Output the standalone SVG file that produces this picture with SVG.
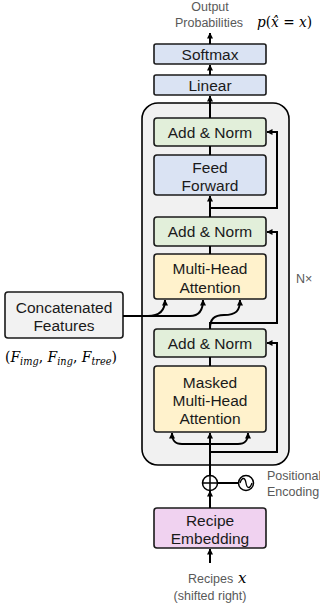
<svg xmlns="http://www.w3.org/2000/svg" width="320" height="607" viewBox="0 0 320 607">
<defs>
<marker id="ah" viewBox="0 0 6 6" refX="5.5" refY="3" markerWidth="6" markerHeight="6" markerUnits="userSpaceOnUse" orient="auto"><path d="M0,0 L6,3 L0,6 z" fill="#000"/></marker>
<style>
.box{stroke:#1a1a1a;stroke-width:1.6}
.t{font-family:"Liberation Sans",Arial,sans-serif;font-size:15.5px;fill:#1a1a1a;text-anchor:middle}
.g{font-family:"Liberation Sans",Arial,sans-serif;font-size:12.5px;fill:#595959}
.m{font-family:"DejaVu Serif","Liberation Serif",serif;fill:#000}
.c{fill:none;stroke:#000;stroke-width:2}
.ca{fill:none;stroke:#000;stroke-width:2;marker-end:url(#ah)}
.blue{fill:#dae3f3}.green{fill:#e2efda}.yellow{fill:#fff2cc}.pink{fill:#f0d2f0}.grey{fill:#f2f2f2}
</style>
</defs>
<rect id="decoder" x="142" y="103" width="147" height="362" rx="16" fill="#f1f1f1" stroke="#000" stroke-width="1.6"/>
<g id="output-label">
<text class="g" x="210" y="11" text-anchor="middle">Output</text>
<text class="g" x="175" y="27">Probabilities</text>
<text class="m" x="257" y="27" font-size="15" textLength="55" lengthAdjust="spacingAndGlyphs"><tspan font-style="italic">p</tspan>(<tspan font-style="italic">x&#x302;</tspan> = <tspan font-style="italic">x</tspan>)</text>
</g>
<g id="softmax"><rect class="box blue" x="154" y="44" width="112" height="20" rx="2"/><text class="t" x="210" y="59.5">Softmax</text></g>
<g id="linear"><rect class="box blue" x="154" y="75" width="112" height="20" rx="2"/><text class="t" x="210" y="90.5">Linear</text></g>
<g id="addnorm1"><rect class="box green" x="154" y="118" width="112" height="28" rx="3"/><text class="t" x="210" y="137.5">Add &amp; Norm</text></g>
<g id="feedforward"><rect class="box blue" x="154" y="155" width="112" height="40" rx="3"/><text class="t" x="210" y="172.5">Feed</text><text class="t" x="210" y="190.5">Forward</text></g>
<g id="addnorm2"><rect class="box green" x="154" y="217" width="112" height="29" rx="3"/><text class="t" x="210" y="237">Add &amp; Norm</text></g>
<g id="mha"><rect class="box yellow" x="154" y="254" width="112" height="45" rx="3"/><text class="t" x="210" y="273.5">Multi-Head</text><text class="t" x="210" y="292.5">Attention</text></g>
<g id="addnorm3"><rect class="box green" x="154" y="329" width="112" height="28" rx="3"/><text class="t" x="210" y="348.5">Add &amp; Norm</text></g>
<g id="masked"><rect class="box yellow" x="154" y="366" width="112" height="66" rx="3"/><text class="t" x="210" y="387.5">Masked</text><text class="t" x="210" y="405.5">Multi-Head</text><text class="t" x="210" y="423.5">Attention</text></g>
<g id="concat"><rect class="box grey" x="5" y="292" width="118" height="46" rx="3"/><text class="t" x="64" y="312.5">Concatenated</text><text class="t" x="64" y="330.5">Features</text>
<text class="m" x="5" y="362" font-size="15" textLength="112" lengthAdjust="spacingAndGlyphs">(<tspan font-style="italic">F</tspan><tspan font-style="italic" font-size="10.5" dy="3">img</tspan><tspan dy="-3">, </tspan><tspan font-style="italic">F</tspan><tspan font-style="italic" font-size="10.5" dy="3">ing</tspan><tspan dy="-3">, </tspan><tspan font-style="italic">F</tspan><tspan font-style="italic" font-size="10.5" dy="3">tree</tspan><tspan dy="-3">)</tspan></text></g>
<g id="nx"><text class="g" x="296" y="283" font-size="13">N×</text></g>
<g id="embedding"><rect class="box pink" x="154" y="508" width="112" height="40" rx="3"/><text class="t" x="210" y="525.5">Recipe</text><text class="t" x="210" y="543.5">Embedding</text></g>
<g id="input-label"><text class="g" x="188" y="583">Recipes</text><text class="m" x="238" y="583" font-size="15" font-style="italic">x</text><text class="g" x="210" y="600" text-anchor="middle">(shifted right)</text></g>
<g id="posenc">
<circle cx="210" cy="483" r="7.5" fill="none" stroke="#000" stroke-width="1.5"/>
<path d="M202.5,483 H217.5 M210,475.5 V490.5" stroke="#000" stroke-width="1.5"/>
<circle cx="246" cy="483" r="7.5" fill="none" stroke="#000" stroke-width="1.5"/>
<path d="M240,483 C242,477 245,477 246,483 C247,489 250,489 252,483" fill="none" stroke="#000" stroke-width="1.3"/>
<text class="g" x="267" y="479.5">Positional</text><text class="g" x="267" y="496">Encoding</text>
</g>
<g id="connectors">
<path class="ca" d="M210,563 V549"/>
<path class="ca" d="M210,508 V491"/>
<path class="c" d="M217.5,483 H238.5"/>
<path class="ca" d="M210,475.5 V433"/>
<path class="ca" d="M210,444 H182 C175,444 172,441 172,433"/>
<path class="ca" d="M210,444 H238 C245,444 248,441 248,433"/>
<path class="ca" d="M210,452 H277 V343 H267"/>
<path class="c" d="M210,357 V366"/>
<path class="ca" d="M210,329 C210,319 214,315 224,315 C236,315 240,311 240,300"/>
<path class="ca" d="M210,329 V323 H277 V232 H267"/>
<path class="ca" d="M123,316 H190 C198,316 203,311 203,300"/>
<path class="ca" d="M148,316 C159,316 165,311 165,300"/>
<path class="c" d="M210,254 V246"/>
<path class="ca" d="M210,217 V196"/>
<path class="ca" d="M210,208 H277 V132 H267"/>
<path class="c" d="M210,155 V146"/>
<path class="ca" d="M210,118 V96"/>
<path class="ca" d="M210,75 V65"/>
<path class="ca" d="M210,44 V33"/>
</g>
</svg>
